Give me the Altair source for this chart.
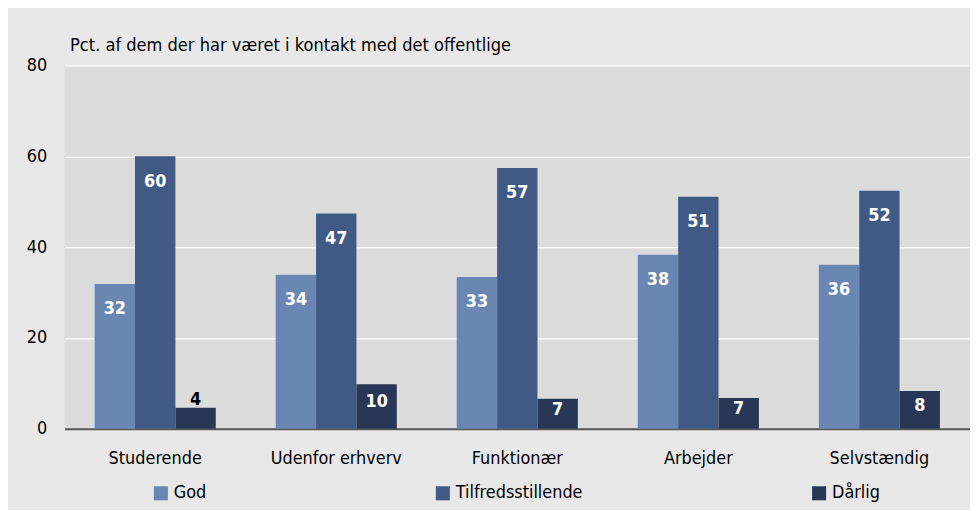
import altair as alt
import pandas as pd

categories = ["Studerende", "Udenfor erhverv", "Funktionær", "Arbejder", "Selvstændig"]
series = ["God", "Tilfredsstillende", "Dårlig"]
god = [31.9, 33.9, 33.4, 38.3, 36.1]
tilfreds = [60.0, 47.4, 57.4, 51.1, 52.4]
daarlig = [4.6, 9.8, 6.6, 6.8, 8.3]
god_lbl = ["32", "34", "33", "38", "36"]
tilfreds_lbl = ["60", "47", "57", "51", "52"]
daarlig_lbl = ["4", "10", "7", "7", "8"]
colors = ["#6a87b4", "#405a85", "#283755"]

rows = []
for vals, lbls, s in [(god, god_lbl, series[0]), (tilfreds, tilfreds_lbl, series[1]), (daarlig, daarlig_lbl, series[2])]:
    for c, v, l in zip(categories, vals, lbls):
        rows.append({"kategori": c, "serie": s, "v": v, "lbl": l})
df = pd.DataFrame(rows)

FONT = "'DejaVu Sans Condensed', 'Roboto Condensed', Roboto, sans-serif"

x = alt.X("kategori:N", sort=categories,
          scale=alt.Scale(paddingInner=0.331, paddingOuter=0.166),
          axis=alt.Axis(title=None, labelAngle=0, ticks=False, domainColor="#555555",
                        domainWidth=2, labelFontSize=18, labelColor="#000000",
                        labelPadding=21, labelFont=FONT))
xo = alt.XOffset("serie:N", sort=series, scale=alt.Scale(paddingInner=0, paddingOuter=0))

bars = alt.Chart(df).mark_bar().encode(
    x=x, xOffset=xo,
    y=alt.Y("v:Q", scale=alt.Scale(domain=[0, 80], nice=False),
            axis=alt.Axis(values=[0, 20, 40, 60, 80], title="Pct. af dem der har været i kontakt med det offentlige",
                          titleAngle=0, titleAlign="left", titleBaseline="alphabetic",
                          titleX=5, titleY=-15, titleFontSize=18.2, titleFontWeight="normal",
                          titleFont=FONT, titleColor="#000000",
                          ticks=False, domain=False, labelFontSize=18, labelColor="#000000",
                          labelPadding=18, labelFont=FONT, gridColor="#ffffff", gridWidth=1.2)),
    color=alt.Color("serie:N", sort=series, scale=alt.Scale(domain=series, range=colors),
                    legend=alt.Legend(title=None, orient="none", legendX=88, legendY=422,
                                      direction="horizontal", columns=3, columnPadding=229,
                                      symbolType="square", symbolSize=200, symbolStrokeWidth=0,
                                      symbolOpacity=1, labelFontSize=18, labelFont=FONT,
                                      labelColor="#000000", labelOffset=4, padding=0)),
)

labels = alt.Chart(df).transform_calculate(
    ly="datum.v >= 15 ? datum.v - 5.6 : (datum.v >= 5 ? datum.v / 2 + 0.9 : datum.v + 1.8)",
    lc="datum.v >= 5 ? '#ffffff' : '#000000'",
).mark_text(fontSize=18, fontWeight="bold", font=FONT, baseline="middle").encode(
    x=x, xOffset=xo,
    y=alt.Y("ly:Q"),
    text="lbl:N",
    color=alt.Color("lc:N", scale=None),
)

chart = (bars + labels).properties(
    width=912, height=366,
    autosize=alt.AutoSizeParams(type="none"),
    padding={"left": 57, "top": 56, "right": 0, "bottom": 80},
    background="#e8e8e8",
).configure_view(fill="#dcdcdc", stroke=None)

chart.save("out.html", embed_options={"renderer": "svg", "actions": False})
